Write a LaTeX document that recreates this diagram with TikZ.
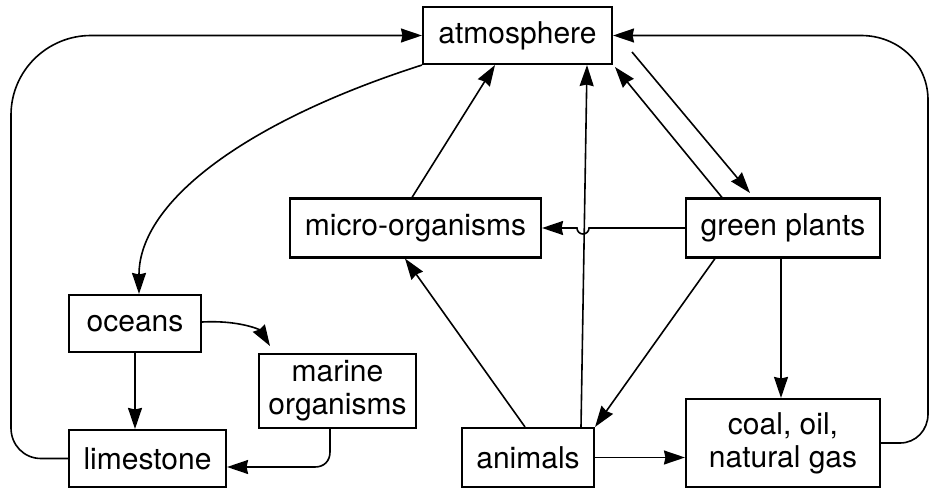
\documentclass[tikz,border=0pt]{standalone}
\usepackage{fontspec}
\setmainfont{TeX Gyre Heros}
\usetikzlibrary{arrows.meta,calc}
\begin{document}
\begin{tikzpicture}[x=1pt,y=-1pt,
  box/.style={draw,line width=2.1pt,inner sep=0pt,align=center,font=\fontsize{30}{33}\selectfont},
  conn/.style={line width=1.6pt},
  arr/.style={conn,-{Stealth[length=21pt,width=14pt,inset=1.5pt]}}]
\useasboundingbox (0,0) rectangle (931,489);
\node[box,minimum width=189pt,minimum height=57pt] (atm) at (517.5,35.5) {atmosphere};
\node[box,minimum width=251pt,minimum height=59pt] (micro) at (415.5,228) {micro-organisms};
\node[box,minimum width=194pt,minimum height=59pt] (green) at (783,228) {green plants};
\node[box,minimum width=132pt,minimum height=57pt] (oceans) at (135,323.5) {oceans};
\node[box,minimum width=157pt,minimum height=74pt] (marine) at (337.5,391) {marine\\organisms};
\node[box,minimum width=157pt,minimum height=57pt] (lime) at (147.5,458.5) {limestone};
\node[box,minimum width=132pt,minimum height=59pt] (animals) at (528,457.5) {animals};
\node[box,minimum width=194pt,minimum height=88pt] (coal) at (783,443) {coal, oil,\\natural gas};
\coordinate (atmout) at (632,52);
% outer loops
\draw[arr] (lime.west) -- (41,458.5) .. controls (24,458.5) and (11,445) .. (11,428)
  -- (11,115) .. controls (11,71) and (47,35.5) .. (91,35.5) -- (atm.west);
\draw[arr] (coal.east) -- (900,443) .. controls (916,443) and (928,430) .. (928,414)
  -- (928,100) .. controls (928,63) and (898,35.5) .. (861,35.5) -- (atm.east);
% atmosphere to oceans
\draw[arr] (atm.south west) .. controls (250,120) and (139,200) .. (oceans.north -| 139,0);
% to atmosphere
\draw[arr] (micro.north -| 412,0) -- (atm.south -| 495,0);
\draw[arr] (animals.north -| 581,0) -- (atm.south -| 587,0);
\draw[arr] (green.north -| 722,0) -- (615,67);
\draw[arr] (atmout) -- (750,193);
% green plants to micro-organisms with hop
\draw[arr] (green.west) -- (589,228) arc[start angle=0,end angle=180,radius=6] -- (micro.east);
\draw[arr] (animals.north -| 525,0) -- (micro.south -| 405,0);
\draw[arr] (green.south -| 715,0) -- (animals.north east);
\draw[arr] (green.south -| 781,0) -- (coal.north -| 781,0);
\draw[arr] (animals.east) -- (coal.west |- animals.east);
% oceans side
\draw[arr] (oceans.south) -- (lime.north -| oceans.south);
\draw[arr] ($(oceans.east)+(0,-1.5)$) .. controls (240,320) and (260,330) .. (270,346);
\draw[arr] (marine.south -| 330,0) -- (330,452) .. controls (330,461) and (324,467) .. (315,467) -- ($(lime.east)+(0,8.5)$);
\end{tikzpicture}
\end{document}
